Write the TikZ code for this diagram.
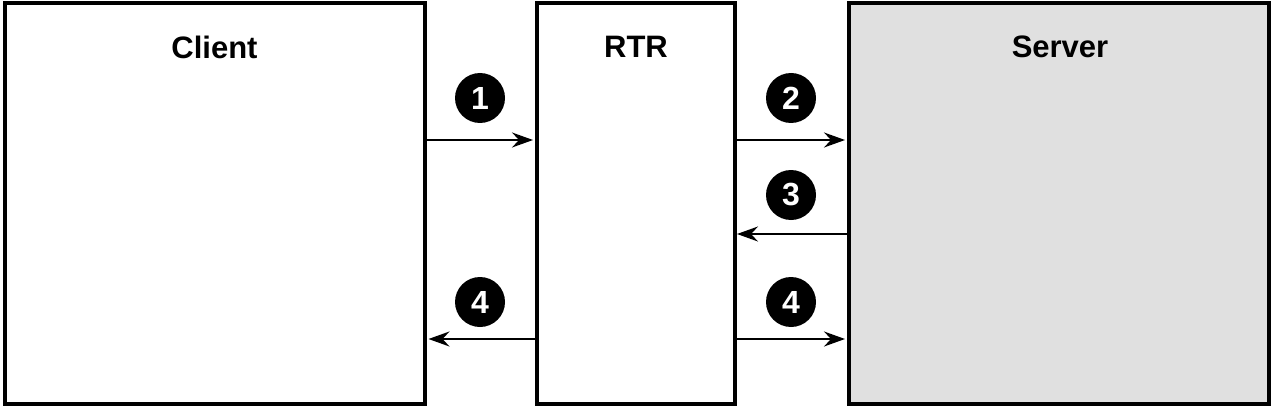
\documentclass[tikz,border=0pt]{standalone}
\usepackage{fontspec}
\setmainfont{Liberation Sans}
\usetikzlibrary{arrows.meta}
\begin{document}
\begin{tikzpicture}[x=1pt,y=-1pt,
  box/.style={draw=black,line width=4pt,minimum width=#1,minimum height=400pt,inner sep=0pt,outer sep=2pt},
  ttl/.style={font=\fontsize{31}{36}\selectfont\bfseries,anchor=center,inner sep=0pt},
  num/.style={circle,fill=black,minimum size=50pt,inner sep=0pt,text=white,font=\fontsize{32}{36}\selectfont\bfseries},
  arr/.style={line width=2pt,-{Stealth[length=21pt,width=15pt,inset=7pt]},shorten >=2pt}]
\useasboundingbox (0,0) rectangle (1273,409);
\node[box=420pt] (client) at (214.5,203.5) {};
\node[box=198pt] (rtr) at (636,203.5) {};
\node[box=420pt,fill={rgb,255:red,224;green,224;blue,224}] (server) at (1059,203.5) {};
\node[ttl] (tc) at (214.5,47) {Client};
\node[ttl] (tr) at (636,47) {RTR};
\node[ttl] (ts) at (1060,47) {Server};
\node[num] (n1) at (480,98) {1};
\node[num] (n2) at (791,98) {2};
\node[num] (n3) at (791,195) {3};
\node[num] (n4a) at (480,302) {4};
\node[num] (n4b) at (791,302) {4};
\coordinate (y1) at (0,140);
\coordinate (y3) at (0,234);
\coordinate (y4) at (0,339);
\draw[arr] (client.east |- y1) -- (rtr.west |- y1);
\draw[arr] (rtr.east |- y1) -- (server.west |- y1);
\draw[arr,shorten >=0pt] (server.west |- y3) -- (rtr.east |- y3);
\draw[arr] (rtr.west |- y4) -- (client.east |- y4);
\draw[arr] (rtr.east |- y4) -- (server.west |- y4);
\end{tikzpicture}
\end{document}
